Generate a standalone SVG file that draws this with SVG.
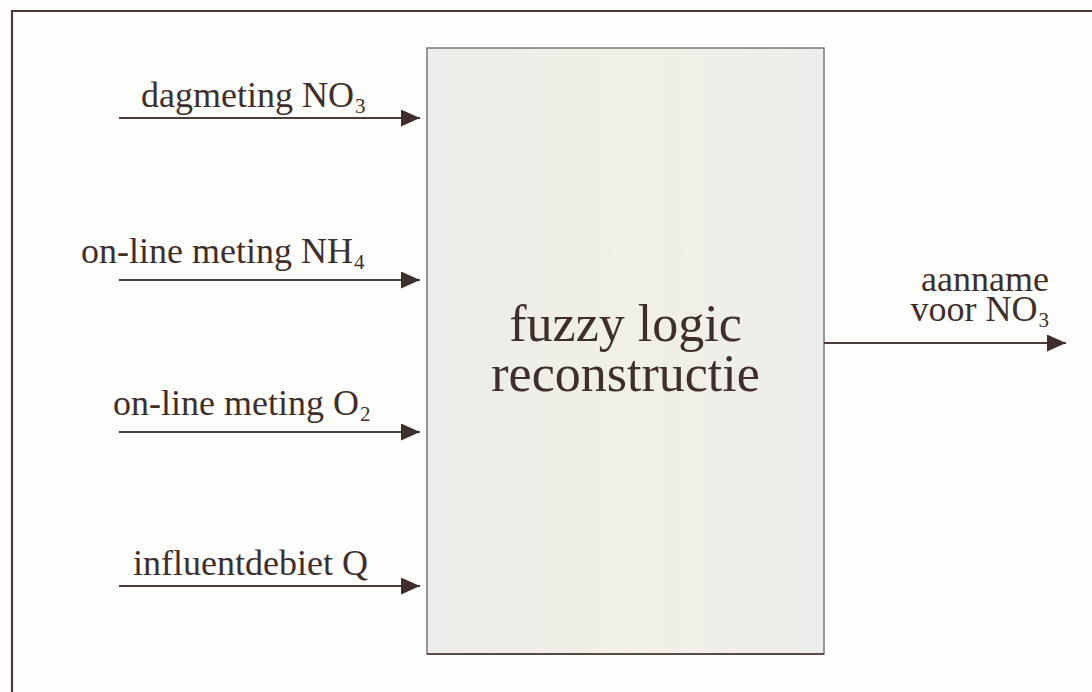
<svg xmlns="http://www.w3.org/2000/svg" width="1092" height="692" viewBox="0 0 1092 692">
  <defs>
    <marker id="arrow" markerWidth="19" markerHeight="17" refX="19" refY="8.5" orient="auto" markerUnits="userSpaceOnUse">
      <path d="M0,0 L19,8.5 L0,17 Z" fill="#3f2f2c"/>
    </marker>
    <linearGradient id="boxFill" x1="0" y1="0" x2="1" y2="0">
      <stop offset="0" stop-color="#ececea"/>
      <stop offset="0.5" stop-color="#f1f0e6"/>
      <stop offset="1" stop-color="#ededeb"/>
    </linearGradient>
  </defs>
  <style>
    .label { font-family: "Liberation Serif", "Times New Roman", serif; font-size: 36px; fill: #3f2f2c; }
    .sub { font-size: 21px; }
    .title { font-family: "Liberation Serif", "Times New Roman", serif; font-size: 52px; fill: #3f2f2c; }
    .wire { stroke: #4a3b38; stroke-width: 1.8; fill: none; }
    .frame { stroke: #4a3b38; stroke-width: 2.2; fill: none; }
  </style>

  <rect x="0" y="0" width="1092" height="692" fill="#fdfdfb"/>

  <!-- open frame: top and left edges -->
  <path class="frame" d="M1092,11 L12,11 L12,692"/>

  <!-- central processing block -->
  <g id="fuzzy-block">
    <rect x="427" y="48" width="397" height="606" fill="url(#boxFill)" stroke="#807674" stroke-width="1.5"/>
    <line x1="427" y1="654" x2="824" y2="654" stroke="#5a4c49" stroke-width="2"/>
    <text class="title" x="625.5" y="341" text-anchor="middle">fuzzy logic</text>
    <text class="title" x="625.5" y="391" text-anchor="middle">reconstructie</text>
  </g>

  <!-- input and output connectors -->
  <g id="connectors">
    <line class="wire" x1="119" y1="118" x2="420" y2="118" marker-end="url(#arrow)"/>
    <line class="wire" x1="119" y1="280" x2="420" y2="280" marker-end="url(#arrow)"/>
    <line class="wire" x1="119" y1="432" x2="420" y2="432" marker-end="url(#arrow)"/>
    <line class="wire" x1="119" y1="586" x2="420" y2="586" marker-end="url(#arrow)"/>
    <line class="wire" x1="824" y1="343" x2="1066" y2="343" marker-end="url(#arrow)"/>
  </g>

  <g id="input-dagmeting">
    <text class="label" x="141" y="107">dagmeting NO<tspan class="sub" dx="1" dy="6">3</tspan></text>
  </g>
  <g id="input-nh4">
    <text class="label" x="81" y="263">on-line meting NH<tspan class="sub" dx="1" dy="6">4</tspan></text>
  </g>
  <g id="input-o2">
    <text class="label" x="113" y="415">on-line meting O<tspan class="sub" dx="1" dy="6">2</tspan></text>
  </g>
  <g id="input-q">
    <text class="label" x="133" y="575">influentdebiet Q</text>
  </g>
  <g id="output-no3">
    <text class="label" x="1049" y="291" text-anchor="end">aanname</text>
    <text class="label" x="1049" y="321" text-anchor="end">voor NO<tspan class="sub" dx="1" dy="6">3</tspan></text>
  </g>
</svg>
